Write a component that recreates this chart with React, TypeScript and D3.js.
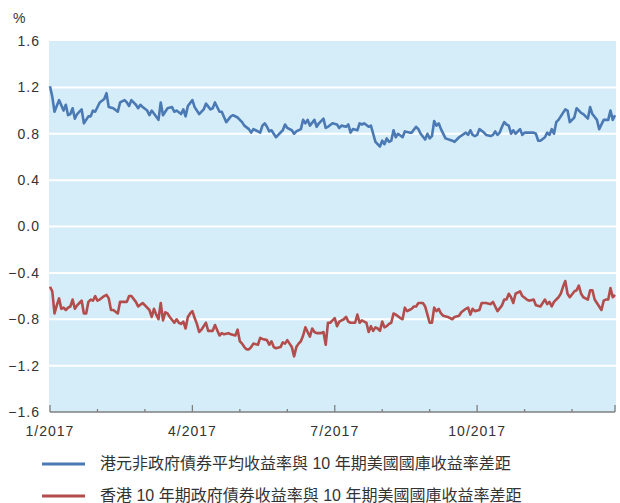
import { useEffect, useRef } from 'react';
import * as d3 from 'd3';

// trading-day index (0 = first trading day of 2017) and spread in %
const hkdNonGovSpread: [number, number][] = [
  [0,1.21],[1,1.12],[2,0.99],[4,1.09],[6,1.00],[7,1.05],[8,0.96],[9,0.97],[10,1.02],[11,0.93],[12,0.97],[14,1.01],[15,0.89],[17,0.95],[18,0.95],[19,1.00],[20,0.99],[22,1.07],[24,1.10],[25,1.15],[26,1.03],[28,1.02],[30,0.99],[31,1.07],[33,1.09],[34,1.07],[35,1.04],[36,1.09],[38,1.05],[39,1.02],[40,1.05],[41,1.03],[43,1.00],[44,0.96],[45,1.00],[48,0.92],[49,1.07],[50,0.96],[52,1.02],[54,1.03],[55,0.99],[56,1.00],[58,0.97],[59,1.01],[60,0.95],[61,1.04],[63,1.09],[64,1.03],[66,0.97],[68,1.01],[69,1.06],[71,1.01],[72,1.02],[73,1.07],[75,0.99],[76,0.99],[78,0.90],[80,0.95],[81,0.96],[83,0.94],
  [84,0.92],[85,0.90],[86,0.87],[88,0.84],[89,0.81],[90,0.84],[91,0.83],[93,0.81],[94,0.87],[95,0.89],[96,0.86],[97,0.82],[98,0.83],[100,0.77],[101,0.79],[103,0.83],[104,0.88],[105,0.85],[107,0.83],[108,0.80],[109,0.82],[111,0.84],[112,0.92],[113,0.89],[114,0.92],[115,0.87],[117,0.92],[118,0.86],[119,0.89],[121,0.93],[122,0.85],[123,0.86],[125,0.89],[127,0.88],[128,0.85],[129,0.87],[131,0.86],[132,0.88],[133,0.81],[134,0.84],[136,0.83],[137,0.89],[138,0.88],[139,0.89],[141,0.86],[142,0.87],[143,0.80],[144,0.73],[146,0.69],[147,0.74],[148,0.71],[149,0.76],[150,0.73],[151,0.74],[152,0.83],[153,0.77],[154,0.80],[156,0.77],[157,0.82],[159,0.81],[160,0.81],[162,0.86],[163,0.84],[164,0.80],[166,0.75],[167,0.80],[168,0.76],
  [169,0.78],[170,0.91],[171,0.87],[172,0.89],[173,0.84],[175,0.76],[178,0.74],[179,0.73],[181,0.77],[184,0.81],[185,0.79],[186,0.83],[187,0.79],[188,0.78],[189,0.79],[190,0.84],[192,0.81],[193,0.79],[195,0.78],[196,0.79],[197,0.82],[198,0.79],[199,0.81],[200,0.86],[201,0.90],[202,0.88],[203,0.87],[204,0.80],[205,0.83],[206,0.80],[208,0.84],[209,0.79],[210,0.81],[212,0.81],[214,0.81],[215,0.80],[216,0.74],[217,0.74],[219,0.77],[220,0.81],[221,0.79],[222,0.84],[223,0.80],[224,0.90],[225,0.92],[226,0.95],[228,1.01],[229,1.00],[230,0.90],[231,0.92],[232,0.94],[233,1.02],[235,0.98],[236,0.97],[238,0.93],[239,1.03],[240,0.97],[242,0.92],[243,0.84],[245,0.92],[246,0.92],[247,0.92],[248,1.00],[249,0.92],[250,0.96],
];

const hkGov10ySpread: [number, number][] = [
  [0,-0.52],[1,-0.56],[2,-0.75],[3,-0.68],[4,-0.62],[5,-0.71],[6,-0.70],[7,-0.72],[8,-0.70],[9,-0.69],[10,-0.63],[11,-0.71],[12,-0.68],[13,-0.66],[14,-0.64],[15,-0.75],[16,-0.75],[17,-0.65],[18,-0.63],[19,-0.64],[20,-0.60],[21,-0.64],[22,-0.63],[24,-0.60],[25,-0.59],[26,-0.62],[27,-0.72],[28,-0.72],[30,-0.75],[31,-0.65],[32,-0.65],[34,-0.65],[35,-0.60],[36,-0.60],[38,-0.65],[39,-0.69],[41,-0.66],[43,-0.70],[44,-0.72],[45,-0.78],[46,-0.71],[47,-0.76],[48,-0.80],[49,-0.66],[50,-0.81],[51,-0.74],[52,-0.75],[53,-0.78],[55,-0.83],[56,-0.80],[57,-0.83],[58,-0.84],[59,-0.82],[60,-0.88],[61,-0.78],[62,-0.75],[63,-0.73],[64,-0.79],[65,-0.84],[66,-0.91],[67,-0.89],[69,-0.83],[70,-0.90],[71,-0.90],[72,-0.90],[73,-0.85],[75,-0.94],[76,-0.92],[77,-0.93],[79,-0.92],[80,-0.93],[82,-0.94],[83,-0.89],
  [84,-0.99],[85,-1.01],[86,-1.04],[87,-1.06],[88,-1.06],[89,-1.04],[90,-1.01],[92,-1.02],[93,-0.96],[94,-0.97],[96,-0.98],[97,-1.02],[98,-0.99],[99,-1.04],[100,-1.05],[102,-1.04],[103,-1.00],[104,-1.01],[105,-0.98],[106,-1.01],[107,-1.04],[108,-1.12],[109,-1.04],[110,-1.01],[111,-0.99],[112,-0.94],[113,-0.87],[114,-0.91],[115,-0.95],[116,-0.88],[117,-0.91],[118,-0.92],[120,-0.92],[121,-0.91],[122,-1.02],[123,-0.83],[124,-0.83],[125,-0.81],[126,-0.79],[127,-0.86],[128,-0.82],[130,-0.80],[131,-0.78],[132,-0.82],[133,-0.83],[134,-0.83],[135,-0.83],[136,-0.76],[137,-0.83],[138,-0.81],[139,-0.82],[140,-0.83],[141,-0.91],[142,-0.86],[143,-0.90],[144,-0.87],[145,-0.88],[146,-0.90],[147,-0.82],[148,-0.87],[149,-0.86],[150,-0.84],[151,-0.83],[152,-0.75],[153,-0.76],[155,-0.79],[156,-0.80],[157,-0.70],[158,-0.73],[159,-0.72],[160,-0.71],[161,-0.69],[162,-0.69],[163,-0.66],[165,-0.66],[166,-0.69],[167,-0.76],[168,-0.83],
  [169,-0.83],[170,-0.70],[171,-0.73],[172,-0.71],[173,-0.75],[174,-0.77],[176,-0.78],[178,-0.80],[179,-0.78],[181,-0.77],[182,-0.74],[184,-0.71],[185,-0.70],[186,-0.76],[187,-0.71],[188,-0.73],[190,-0.72],[191,-0.66],[192,-0.66],[193,-0.66],[195,-0.67],[196,-0.65],[197,-0.69],[198,-0.73],[200,-0.68],[201,-0.63],[202,-0.63],[203,-0.58],[204,-0.61],[205,-0.66],[206,-0.58],[208,-0.56],[209,-0.60],[211,-0.63],[212,-0.64],[214,-0.63],[215,-0.68],[217,-0.69],[218,-0.66],[219,-0.63],[220,-0.67],[221,-0.65],[222,-0.69],[223,-0.65],[225,-0.61],[226,-0.58],[227,-0.52],[228,-0.47],[229,-0.58],[230,-0.61],[232,-0.56],[233,-0.55],[234,-0.51],[235,-0.58],[236,-0.61],[238,-0.63],[239,-0.55],[240,-0.55],[241,-0.63],[242,-0.66],[243,-0.69],[244,-0.72],[245,-0.64],[246,-0.63],[247,-0.63],[248,-0.53],[249,-0.61],[250,-0.59],
];

const seriesNames = [
  '港元非政府債券平均收益率與 10 年期美國國庫收益率差距',
  '香港 10 年期政府債券收益率與 10 年期美國國庫收益率差距',
];
const seriesColors = ['#4a79b4', '#b34d4b'];

const yTicks = [1.6, 1.2, 0.8, 0.4, 0.0, -0.4, -0.8, -1.2, -1.6];
const monthTicks = [0, 21, 42, 63, 84, 105, 126, 147, 168, 189, 210, 231, 250];
const quarterTicks = [0, 63, 126, 189, 250];
const quarterLabels = ['1/2017', '4/2017', '7/2017', '10/2017'];

const latin = '"Liberation Sans", Arial, sans-serif';
const cjk = '"Liberation Sans", "Noto Sans CJK TC", sans-serif';

export default function App() {
  const svgRef = useRef<SVGSVGElement>(null);

  useEffect(() => {
    const svg = d3.select(svgRef.current);
    svg.selectAll('*').remove();

    const x = d3.scaleLinear().domain([0, 250]).range([50, 615]);
    const y = d3.scaleLinear().domain([-1.6, 1.6]).range([412, 41]);

    svg.append('rect')
      .attr('x', x(0) - 1).attr('y', y(1.6))
      .attr('width', x(250) - x(0) + 2).attr('height', y(-1.6) - y(1.6))
      .attr('fill', '#d5ecf9');

    svg.selectAll('line.grid')
      .data(yTicks.filter(d => Math.abs(d) < 1.6))
      .enter().append('line')
      .attr('class', 'grid')
      .attr('x1', x(0) - 1).attr('x2', x(250) + 1)
      .attr('y1', d => y(d)).attr('y2', d => y(d))
      .attr('stroke', '#fff').attr('stroke-width', 2);

    svg.selectAll('text.ylab')
      .data(yTicks)
      .enter().append('text')
      .attr('class', 'ylab')
      .attr('x', 40).attr('y', d => y(d))
      .attr('dy', '0.35em')
      .attr('text-anchor', 'end')
      .attr('font-family', latin).attr('font-size', 14)
      .attr('letter-spacing', 1)
      .attr('fill', '#333')
      .text(d => d3.format('.1f')(d));

    svg.append('text')
      .attr('x', 13).attr('y', 23)
      .attr('font-family', latin).attr('font-size', 14)
      .attr('fill', '#333').text('%');

    const line = d3.line<[number, number]>()
      .x(d => x(d[0])).y(d => y(d[1]));

    [hkdNonGovSpread, hkGov10ySpread].forEach((s, i) => {
      svg.append('path')
        .datum(s)
        .attr('d', line)
        .attr('fill', 'none')
        .attr('stroke', seriesColors[i])
        .attr('stroke-width', 2.6)
        .attr('stroke-linejoin', 'round');
    });

    // x axis
    svg.append('line')
      .attr('x1', x(0)).attr('x2', x(250))
      .attr('y1', 412).attr('y2', 412)
      .attr('stroke', '#7f7f7f').attr('stroke-width', 1.3);

    svg.selectAll('line.tick')
      .data(monthTicks)
      .enter().append('line')
      .attr('class', 'tick')
      .attr('x1', d => x(d)).attr('x2', d => x(d))
      .attr('y1', 412)
      .attr('y2', d => (quarterTicks.includes(d) ? 405 : 409))
      .attr('stroke', '#7f7f7f').attr('stroke-width', 1.3);

    svg.selectAll('text.xlab')
      .data(quarterLabels)
      .enter().append('text')
      .attr('class', 'xlab')
      .attr('x', (_, i) => x(quarterTicks[i]))
      .attr('y', 436)
      .attr('text-anchor', 'middle')
      .attr('font-family', latin).attr('font-size', 14)
      .attr('letter-spacing', 1)
      .attr('fill', '#333')
      .text(d => d);

    // legend
    seriesNames.forEach((name, i) => {
      const ly = 464 + i * 32;
      svg.append('line')
        .attr('x1', 42).attr('x2', 85)
        .attr('y1', ly).attr('y2', ly)
        .attr('stroke', seriesColors[i]).attr('stroke-width', 3);
      svg.append('text')
        .attr('x', 100).attr('y', ly + 5)
        .attr('font-family', cjk).attr('font-size', 16)
        .attr('fill', '#333')
        .text(name);
    });
  }, []);

  return (
    <svg
      ref={svgRef}
      width={620}
      height={503}
      style={{ position: 'absolute', left: 0, top: 0, background: '#fff' }}
    />
  );
}
